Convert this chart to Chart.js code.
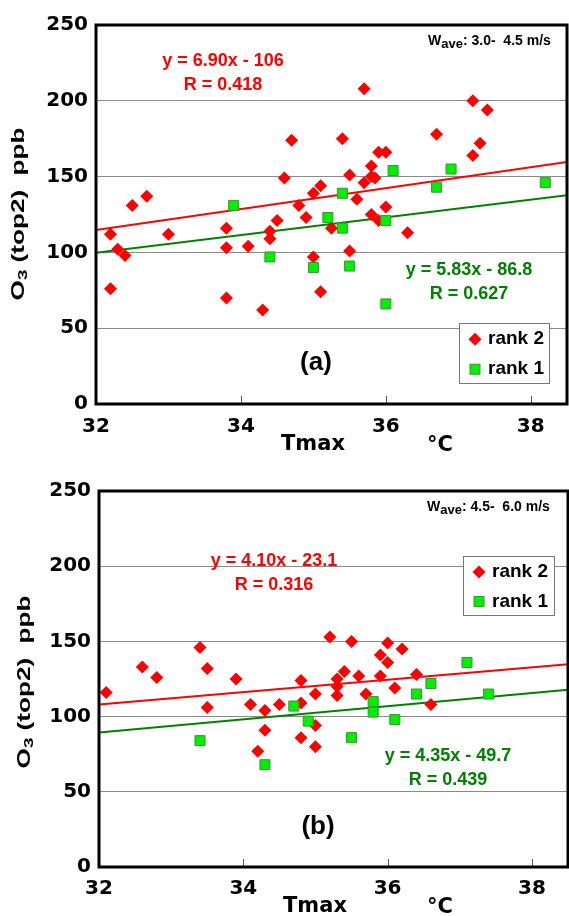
<!DOCTYPE html>
<html>
<head>
<meta charset="utf-8">
<script src="https://cdn.jsdelivr.net/npm/chart.js@4.4.1/dist/chart.umd.min.js"></script>
<style>
  html, body { margin: 0; padding: 0; background: #fff; overflow: hidden; }
  canvas { position: absolute; left: 0; }
  #chartA { top: 0; }
  #chartB { top: 458px; }
</style>
</head>
<body>
<canvas id="chartA" width="569" height="458"></canvas>
<canvas id="chartB" width="569" height="458"></canvas>
<script>
// axis setup shared by both panels
var xMin = 32, xMax = 38.5;
var xTickValues = [32, 34, 36, 38];
var yTickValues = [0, 50, 100, 150, 200, 250];

// panel (a): Wave 3.0 - 4.5 m/s
var tmaxRank2A = [32.2, 32.2, 32.3, 32.4, 32.5, 32.7, 33.0, 33.8, 33.8, 33.8, 34.1, 34.3, 34.4, 34.4, 34.5,
                  34.8, 34.9, 35.0, 35.1, 34.6, 34.7, 35.0, 35.1, 35.7, 35.4, 37.2, 37.4, 36.7, 37.3, 37.2,
                  35.9, 36.0, 35.8, 35.8, 35.7, 35.85, 35.5, 35.6, 36.0, 35.8, 35.25, 35.9, 36.3, 35.5];
var o3Rank2A   = [112, 76, 102, 98, 131, 137, 112, 116, 103, 70, 104, 62, 114, 109, 121,
                  131, 123, 97, 74, 149, 174, 139, 144, 208, 175, 200, 194, 178, 172, 164,
                  166, 166, 157, 150, 146, 149, 151, 135, 130, 125, 116, 121, 113, 101];
var tmaxRank1A = [33.9, 34.4, 35.0, 36.1, 36.9, 36.7, 38.2, 35.4, 35.2, 35.4, 36.0, 35.5, 36.0];
var o3Rank1A   = [131, 97, 90, 154, 155, 143, 146, 139, 123, 116, 121, 91, 66];
var fitRank2A = { slope: 6.90, icept: -106, r: 0.418 };
var fitRank1A = { slope: 5.83, icept: -86.8, r: 0.627 };

// panel (b): Wave 4.5 - 6.0 m/s
var tmaxRank2B = [32.1, 32.6, 32.8, 33.4, 33.5, 33.9, 34.8, 35.0, 33.5, 34.1, 34.3, 34.5, 34.8, 34.3, 34.2,
                  34.8, 35.0, 35.0, 35.2, 35.5, 36.0, 36.2, 35.9, 36.0, 35.4, 35.6, 35.9, 36.4, 35.3, 36.1,
                  35.3, 35.3, 35.7, 36.6];
var o3Rank2B   = [116, 133, 126, 146, 132, 125, 124, 115, 106, 108, 104, 108, 109, 91, 77,
                  86, 94, 80, 153, 150, 149, 145, 141, 136, 130, 127, 127, 128, 125, 119,
                  120, 114, 115, 108];
var tmaxRank1B = [33.4, 34.3, 34.7, 34.9, 35.5, 35.8, 35.8, 36.1, 36.4, 37.4, 37.1, 36.6];
var o3Rank1B   = [84, 68, 107, 97, 86, 110, 103, 98, 115, 115, 136, 122];
var fitRank2B = { slope: 4.10, icept: -23.1, r: 0.316 };
var fitRank1B = { slope: 4.35, icept: -49.7, r: 0.439 };

var RED = '#ff0000';
var LIME = '#00f000';
var LIME_EDGE = '#3f8f3f';
var DARKGREEN = '#008000';
var ARIAL = '"Liberation Sans", Arial, sans-serif';

function toPoints(xs, ys) {
    return xs.map(function (v, i) { return { x: v, y: ys[i] }; });
}

function fitLine(f) {
    return [{ x: xMin, y: f.slope * xMin + f.icept }, { x: xMax, y: f.slope * xMax + f.icept }];
}

function eqText(f) {
    var sign = f.icept < 0 ? ' - ' : ' + ';
    return 'y = ' + f.slope.toFixed(2) + 'x' + sign + Math.abs(f.icept);
}

function drawDiamond(ctx, x, y, r) {
    ctx.beginPath();
    ctx.moveTo(x - r, y);
    ctx.lineTo(x, y - r);
    ctx.lineTo(x + r, y);
    ctx.lineTo(x, y + r);
    ctx.closePath();
    ctx.fillStyle = RED;
    ctx.fill();
}

function drawSquare(ctx, x, y, s) {
    ctx.fillStyle = LIME;
    ctx.fillRect(x - s / 2, y - s / 2, s, s);
    ctx.strokeStyle = LIME_EDGE;
    ctx.lineWidth = 1;
    ctx.strokeRect(x - s / 2, y - s / 2, s, s);
}

// "O3 (top2)  ppb" written bottom to top, subscript 3
function drawYTitle(ctx, cx, cy) {
    var big = 'bold 18px ' + ARIAL;
    var small = 'bold 13px ' + ARIAL;
    ctx.save();
    ctx.translate(cx, cy);
    ctx.rotate(-Math.PI / 2);
    ctx.scale(1.45, 1);
    ctx.fillStyle = '#000';
    ctx.textBaseline = 'middle';
    ctx.textAlign = 'left';
    ctx.font = big;
    var w1 = ctx.measureText('O').width;
    var w3 = ctx.measureText(' (top2)  ppb').width;
    ctx.font = small;
    var w2 = ctx.measureText('3').width;
    var x = -(w1 + w2 + w3) / 2;
    ctx.font = big;
    ctx.fillText('O', x, 0);
    ctx.font = small;
    ctx.fillText('3', x + w1, 4);
    ctx.font = big;
    ctx.fillText(' (top2)  ppb', x + w1 + w2, 0);
    ctx.restore();
}

function drawWave(ctx, x, y, range) {
    ctx.save();
    ctx.fillStyle = '#000';
    ctx.textAlign = 'left';
    ctx.textBaseline = 'alphabetic';
    ctx.font = 'bold 14px ' + ARIAL;
    ctx.fillText('W', x, y);
    x += ctx.measureText('W').width;
    ctx.font = 'bold 13px ' + ARIAL;
    ctx.fillText('ave', x, y + 3);
    x += ctx.measureText('ave').width;
    ctx.font = 'bold 14px ' + ARIAL;
    ctx.fillText(': ' + range + ' m/s', x, y);
    ctx.restore();
}

// frame, inward x ticks, equations, legend and labels
var panelDecor = {
    id: 'panelDecor',
    afterDraw: function (chart) {
        var look = chart.options.plugins.panelDecor;
        var ctx = chart.ctx;
        var area = chart.chartArea;
        var xs = chart.scales.x;

        ctx.save();
        // inward tick marks
        ctx.strokeStyle = '#555';
        ctx.lineWidth = 1;
        xTickValues.forEach(function (v) {
            if (v <= xMin) return;
            var px = Math.round(xs.getPixelForValue(v)) + 0.5;
            ctx.beginPath();
            ctx.moveTo(px, area.bottom - 1);
            ctx.lineTo(px, area.bottom - 8);
            ctx.stroke();
        });
        // plot frame
        ctx.strokeStyle = '#000';
        ctx.lineWidth = 3;
        ctx.strokeRect(area.left, area.top, area.right - area.left, area.bottom - area.top);

        // fit equations
        ctx.textAlign = 'center';
        ctx.textBaseline = 'middle';
        ctx.font = 'bold 18px ' + ARIAL;
        ctx.fillStyle = RED;
        ctx.fillText(eqText(look.fit2), look.eq2[0], look.eq2[1]);
        ctx.fillText('R = ' + look.fit2.r.toFixed(3), look.eq2[0], look.eq2[1] + 24);
        ctx.fillStyle = DARKGREEN;
        ctx.fillText(eqText(look.fit1), look.eq1[0], look.eq1[1]);
        ctx.fillText('R = ' + look.fit1.r.toFixed(3), look.eq1[0], look.eq1[1] + 24);

        // panel tag
        ctx.fillStyle = '#000';
        ctx.font = 'bold 26px ' + ARIAL;
        ctx.fillText(look.tag, look.tagPos[0], look.tagPos[1]);

        drawWave(ctx, look.wavePos[0], look.wavePos[1], look.wave);

        // legend
        var lg = look.legend;
        ctx.fillStyle = '#fff';
        ctx.fillRect(lg[0], lg[1], lg[2], lg[3]);
        ctx.strokeStyle = '#777';
        ctx.lineWidth = 1;
        ctx.strokeRect(lg[0] + 0.5, lg[1] + 0.5, lg[2], lg[3]);
        var row1 = lg[1] + lg[3] * 0.27, row2 = lg[1] + lg[3] * 0.77;
        drawDiamond(ctx, lg[0] + 16, row1, 6.5);
        drawSquare(ctx, lg[0] + 16, row2, 10);
        ctx.fillStyle = '#000';
        ctx.font = 'bold 19px ' + ARIAL;
        ctx.textAlign = 'left';
        ctx.fillText('rank 2', lg[0] + 29, row1);
        ctx.fillText('rank 1', lg[0] + 29, row2);

        // axis titles
        ctx.font = 'bold 21px "DejaVu Sans", sans-serif';
        ctx.textAlign = 'center';
        ctx.textBaseline = 'alphabetic';
        ctx.fillText('Tmax', look.tmaxPos[0], look.tmaxPos[1]);
        ctx.fillText('\u00B0C', look.degPos[0], look.degPos[1]);
        drawYTitle(ctx, look.yTitlePos[0], look.yTitlePos[1]);
        ctx.restore();
    }
};

function buildPanel(id, r2x, r2y, r1x, r1y, fit2, fit1, look) {
    var tickFont = { family: '"DejaVu Sans", sans-serif', weight: 'bold', size: 20 };
    return new Chart(document.getElementById(id), {
        type: 'scatter',
        data: {
            datasets: [
                {
                    label: 'rank 1',
                    data: toPoints(r1x, r1y),
                    pointStyle: 'rect',
                    pointRadius: 7.1,
                    backgroundColor: LIME,
                    borderColor: LIME_EDGE,
                    borderWidth: 1,
                    order: 1
                },
                {
                    label: 'rank 2',
                    data: toPoints(r2x, r2y),
                    pointStyle: 'rectRot',
                    pointRadius: 6.5,
                    backgroundColor: RED,
                    borderColor: RED,
                    borderWidth: 0,
                    order: 2
                },
                {
                    label: 'fit rank 2',
                    data: fitLine(fit2),
                    showLine: true,
                    borderColor: RED,
                    borderWidth: 2,
                    pointRadius: 0,
                    order: 3
                },
                {
                    label: 'fit rank 1',
                    data: fitLine(fit1),
                    showLine: true,
                    borderColor: DARKGREEN,
                    borderWidth: 2,
                    pointRadius: 0,
                    order: 4
                }
            ]
        },
        options: {
            responsive: false,
            animation: false,
            layout: {
                autoPadding: false,
                padding: { top: look.padTop, right: look.padRight, left: 0, bottom: 0 }
            },
            plugins: {
                legend: { display: false },
                tooltip: { enabled: false },
                panelDecor: look
            },
            scales: {
                x: {
                    type: 'linear',
                    min: xMin,
                    max: xMax,
                    grid: { display: false },
                    border: { display: false },
                    ticks: { font: tickFont, color: '#000', padding: look.xPad, includeBounds: false },
                    afterBuildTicks: function (scale) {
                        scale.ticks = xTickValues.map(function (v) { return { value: v }; });
                    },
                    afterFit: function (scale) {
                        scale.height = look.axisH;
                        scale.paddingLeft = 0;
                        scale.paddingRight = 0;
                    }
                },
                y: {
                    min: 0,
                    max: 250,
                    grid: { color: '#8a8a8a', lineWidth: 1, drawTicks: false },
                    border: { display: false },
                    ticks: { font: tickFont, color: '#000', padding: 8 },
                    afterBuildTicks: function (scale) {
                        scale.ticks = yTickValues.map(function (v) { return { value: v }; });
                    },
                    afterFit: function (scale) {
                        scale.width = look.axisW;
                        scale.paddingTop = 0;
                        scale.paddingBottom = 0;
                    }
                }
            }
        },
        plugins: [panelDecor]
    });
}

buildPanel('chartA', tmaxRank2A, o3Rank2A, tmaxRank1A, o3Rank1A, fitRank2A, fitRank1A, {
    padTop: 25, padRight: 2, axisW: 96, axisH: 54, xPad: 3,
    fit2: fitRank2A, fit1: fitRank1A,
    eq2: [223, 61], eq1: [469, 270],
    tag: '(a)', tagPos: [316, 363],
    wave: '3.0-  4.5', wavePos: [428, 45],
    legend: [459, 323, 90, 60],
    tmaxPos: [313, 450], degPos: [440, 451],
    yTitlePos: [19, 214]
});

buildPanel('chartB', tmaxRank2B, o3Rank2B, tmaxRank1B, o3Rank1B, fitRank2B, fitRank1B, {
    padTop: 33, padRight: 1, axisW: 99, axisH: 49, xPad: 2,
    fit2: fitRank2B, fit1: fitRank1B,
    eq2: [274, 103], eq1: [448, 298],
    tag: '(b)', tagPos: [318, 369],
    wave: '4.5-  6.0', wavePos: [427, 53],
    legend: [463, 98, 91, 59],
    tmaxPos: [315, 454], degPos: [440, 455],
    yTitlePos: [25, 224]
});
</script>
</body>
</html>
